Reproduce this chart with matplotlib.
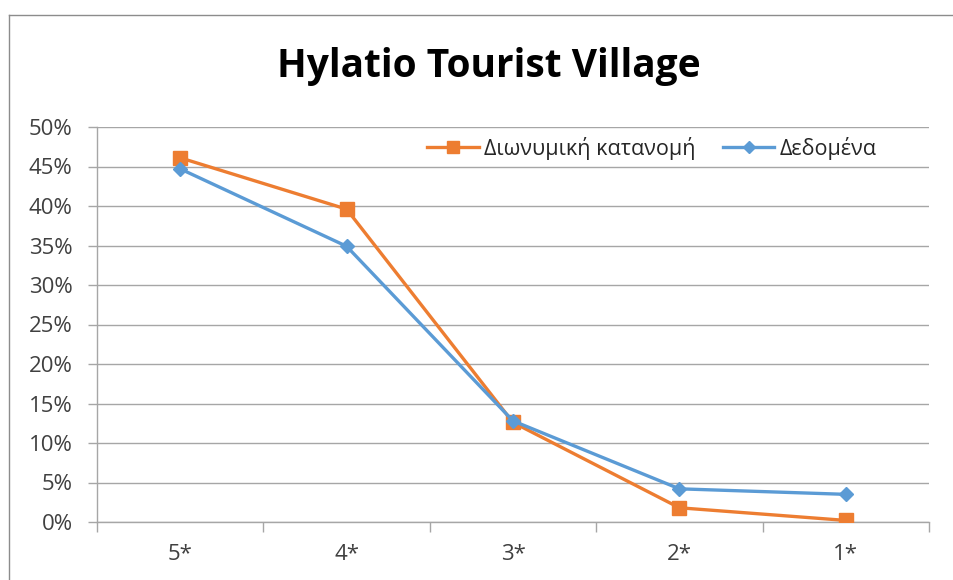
"""
Hylatio Tourist Village - binomial distribution vs observed data
"""
import matplotlib
matplotlib.use('Agg')
import matplotlib.pyplot as plt
from matplotlib.lines import Line2D
from matplotlib.ticker import FuncFormatter, FixedLocator

# Data
categories = ['5*', '4*', '3*', '2*', '1*']
binomial = [46.1, 39.6, 12.6, 1.8, 0.2]      # Διωνυμική κατανομή (%)
observed = [44.7, 34.9, 12.8, 4.2, 3.5]      # Δεδομένα (%)
y_ticks = [0, 5, 10, 15, 20, 25, 30, 35, 40, 45, 50]

ORANGE = '#ED7D31'
BLUE = '#5B9BD5'
GRID = '#A6A6A6'

plt.rcParams['font.family'] = ['Open Sans', 'DejaVu Sans']

fig = plt.figure(figsize=(9.54, 5.8), dpi=100)
ax = fig.add_axes([97 / 954, 1 - 522 / 580, 832 / 954, 395 / 580])

x = list(range(len(categories)))
ax.plot(x, binomial, color=ORANGE, linewidth=2.4, marker='s', markersize=9.5,
        label='Διωνυμική κατανομή', zorder=3)
ax.plot(x, observed, color=BLUE, linewidth=2.4, marker='D', markersize=7.5,
        label='Δεδομένα', zorder=4)

ax.set_xlim(-0.5, len(categories) - 0.5)
ax.set_ylim(0, 50)

# y axis: percent ticks, grey gridlines
ax.set_yticks(y_ticks)
ax.yaxis.set_major_formatter(FuncFormatter(lambda v, p: f'{v:.0f}%'))
ax.grid(True, axis='y', color=GRID, linewidth=1.0, zorder=0)
ax.tick_params(axis='y', length=6.5, width=1.0, color=GRID, pad=11,
               labelsize=16, labelcolor='#404040')

# x axis: category labels with tick marks between categories
ax.set_xticks(x)
ax.set_xticklabels(categories)
ax.xaxis.set_minor_locator(FixedLocator([i - 0.5 for i in range(len(categories) + 1)]))
ax.tick_params(axis='x', which='major', length=0, pad=16,
               labelsize=16, labelcolor='#404040')
ax.tick_params(axis='x', which='minor', length=7.5, width=1.0, color=GRID)

for side in ['top', 'right']:
    ax.spines[side].set_visible(False)
for side in ['left', 'bottom']:
    ax.spines[side].set_color(GRID)
    ax.spines[side].set_linewidth(1.0)

# legend top right, horizontal
handles = [
    Line2D([], [], color=ORANGE, linewidth=2.4, marker='s', markersize=9),
    Line2D([], [], color=BLUE, linewidth=2.4, marker='D', markersize=6.5),
]
ax.legend(handles, ['Διωνυμική κατανομή', 'Δεδομένα'], ncol=2,
          loc='center', bbox_to_anchor=(555 / 832, 1 - 21 / 395),
          frameon=False, fontsize=15.5, handlelength=2.4, handletextpad=0.25,
          columnspacing=1.25, borderaxespad=0, labelcolor='#262626')

fig.text(489 / 954, 1 - 67 / 580, 'Hylatio Tourist Village', ha='center', va='center',
         fontsize=28, fontweight='bold', color='black')

# chart area border
fig.add_artist(Line2D([9 / 954, 9 / 954], [0, 1 - 15 / 580], transform=fig.transFigure,
                      color='#8C8C8C', linewidth=1.0))
fig.add_artist(Line2D([9 / 954, 1], [1 - 15 / 580, 1 - 15 / 580], transform=fig.transFigure,
                      color='#8C8C8C', linewidth=1.0))

plt.savefig('out.png', dpi=100)
